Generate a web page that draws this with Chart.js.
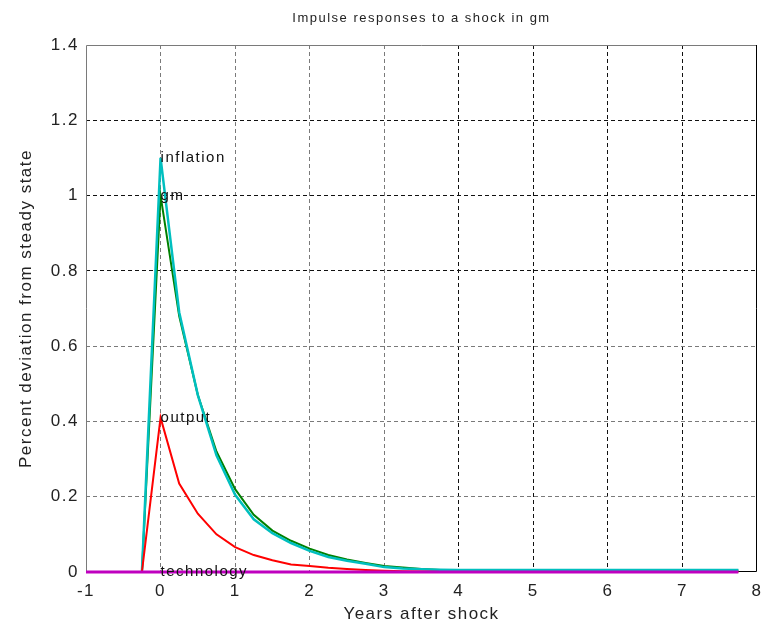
<!DOCTYPE html>
<html>
<head>
<meta charset="utf-8">
<script src="https://cdn.jsdelivr.net/npm/chart.js@4"></script>
<style>
html,body{margin:0;padding:0;background:#fff;}
canvas{display:block;}
</style>
</head>
<body>
<canvas id="c" width="763" height="625"></canvas>
<script>
// ---- data ----
const titleText = 'Impulse responses to a shock in gm';
const xTitle = 'Years after shock';
const yTitle = 'Percent deviation from steady state';

const years = [-1, -0.75, -0.5, -0.25, 0, 0.25, 0.5, 0.75, 1, 1.25, 1.5, 1.75, 2, 2.25, 2.5, 2.75,
  3, 3.25, 3.5, 3.75, 4, 4.25, 4.5, 4.75, 5, 5.25, 5.5, 5.75, 6, 6.25, 6.5, 6.75, 7, 7.25, 7.5, 7.75];

const technology = [0, 0, 0, 0, 0, 0, 0, 0, 0, 0, 0, 0, 0, 0, 0, 0,
  0, 0, 0, 0, 0, 0, 0, 0, 0, 0, 0, 0, 0, 0, 0, 0, 0, 0, 0, 0];
const output = [null, null, null, 0, 0.41, 0.235, 0.155, 0.10, 0.066, 0.045, 0.031, 0.02, 0.016, 0.011, 0.008, 0.005,
  0.003, 0.002, 0.001, 0, 0, 0, 0, 0, 0, 0, 0, 0, 0, 0, 0, 0, 0, 0, 0, 0];
const inflation = [null, null, null, 0, 1.10, 0.69, 0.47, 0.31, 0.205, 0.14, 0.103, 0.077, 0.056, 0.04, 0.03, 0.022,
  0.013, 0.009, 0.007, 0.006, 0.005, 0.005, 0.005, 0.005, 0.005, 0.005, 0.005, 0.005, 0.005, 0.005, 0.005, 0.005, 0.005, 0.005, 0.005, 0.005];
const gm = [null, null, null, 0, 1.0, 0.68, 0.47, 0.32, 0.22, 0.152, 0.11, 0.083, 0.062, 0.045, 0.033, 0.024,
  0.016, 0.012, 0.008, 0.005, 0.004, 0.004, 0.004, 0.004, 0.004, 0.004, 0.004, 0.004, 0.004, 0.004, 0.004, 0.004, 0.004, 0.004, 0.004, 0.004];

const xTicks = [-1, 0, 1, 2, 3, 4, 5, 6, 7, 8];
const yTicks = [0, 0.2, 0.4, 0.6, 0.8, 1, 1.2, 1.4];
const yTickLabels = ['0', '0.2', '0.4', '0.6', '0.8', '1', '1.2', '1.4'];

const annoNames = ['inflation', 'gm', 'output', 'technology'];
const annoX = [0, 0, 0, 0];
const annoY = [1.1, 1.0, 0.41, 0];

// ---- chart ----
const FONT = '"Liberation Sans", Arial, sans-serif';
const SPACING = '1.5px';
const pts = arr => years.map((t, i) => ({x: t, y: arr[i]}));

const spacingPlugin = {
  id: 'spacing',
  beforeLayout(chart) { try { chart.ctx.letterSpacing = SPACING; } catch (e) {} },
  beforeDraw(chart) { try { chart.ctx.letterSpacing = SPACING; } catch (e) {} }
};

const boxPlugin = {
  id: 'box',
  beforeDatasetsDraw(chart) {
    const {ctx, chartArea: a} = chart;
    ctx.save();
    ctx.lineWidth = 1;
    ctx.strokeStyle = '#7a7a7a';
    ctx.beginPath();
    ctx.moveTo(a.left + 0.5, a.bottom);
    ctx.lineTo(a.left + 0.5, a.top + 0.5);
    ctx.lineTo(a.right, a.top + 0.5);
    ctx.stroke();
    ctx.strokeStyle = '#000';
    ctx.beginPath();
    ctx.moveTo(a.right - 0.5, a.top);
    ctx.lineTo(a.right - 0.5, a.bottom - 0.5);
    ctx.lineTo(a.left, a.bottom - 0.5);
    ctx.stroke();
    ctx.restore();
  }
};

const annoPlugin = {
  id: 'anno',
  afterDatasetsDraw(chart) {
    const {ctx, scales: {x, y}} = chart;
    ctx.save();
    ctx.font = '15px ' + FONT;
    try { ctx.letterSpacing = SPACING; } catch (e) {}
    ctx.fillStyle = '#111';
    ctx.textAlign = 'left';
    ctx.textBaseline = 'middle';
    annoNames.forEach((n, i) => {
      ctx.fillText(n, x.getPixelForValue(annoX[i]), y.getPixelForValue(annoY[i]));
    });
    ctx.restore();
  }
};

const gridColor = (lightMax, min, max) => c => {
  const v = c.tick ? c.tick.value : null;
  if (v === null || v === min || v === max) return 'rgba(0,0,0,0)';
  return v <= lightMax ? '#7a7a7a' : '#111';
};

const tickFont = {family: FONT, size: 17};

new Chart(document.getElementById('c'), {
  type: 'line',
  data: {
    datasets: [
      {label: 'technology', data: pts(technology), borderColor: '#bf00bf', borderWidth: 3, clip: 4},
      {label: 'output', data: pts(output), borderColor: '#ff0000', borderWidth: 2, clip: 4},
      {label: 'inflation', data: pts(inflation), borderColor: '#00bfbf', borderWidth: 2.5, clip: 4},
      {label: 'gm', data: pts(gm), borderColor: '#008000', borderWidth: 2, clip: 4}
    ]
  },
  options: {
    responsive: false,
    animation: false,
    devicePixelRatio: 1,
    layout: {padding: {left: 0, right: 0, top: 0, bottom: 0}},
    elements: {point: {radius: 0}, line: {tension: 0, borderCapStyle: 'butt'}},
    plugins: {
      legend: {display: false},
      tooltip: {enabled: false},
      title: {
        display: true,
        fullSize: false,
        text: titleText,
        color: '#222',
        font: {family: FONT, size: 13, weight: 'normal'},
        padding: {top: 11, bottom: 18.4}
      }
    },
    scales: {
      x: {
        type: 'linear',
        min: -1, max: 8,
        afterFit: s => { s.height = 53; s.paddingRight = 6; s.paddingLeft = 0; },
        afterBuildTicks: s => { s.ticks = xTicks.map(v => ({value: v})); },
        ticks: {color: '#222', font: tickFont, padding: 9, maxRotation: 0, autoSkip: false},
        grid: {color: gridColor(3, -1, 8), lineWidth: 1, drawTicks: false},
        border: {display: false, dash: [4, 3]},
        title: {display: true, text: xTitle, color: '#222', font: tickFont, padding: {top: 0, bottom: 0}}
      },
      y: {
        type: 'linear',
        min: 0, max: 1.4,
        afterFit: s => { s.width = 86; },
        afterBuildTicks: s => { s.ticks = yTicks.map(v => ({value: v})); },
        ticks: {
          color: '#222', font: tickFont, padding: 7, autoSkip: false,
          callback: (v, i) => yTickLabels[i]
        },
        grid: {color: gridColor(0.6, 0, 1.4), lineWidth: 1, drawTicks: false},
        border: {display: false, dash: [4, 3]},
        title: {display: true, text: yTitle, color: '#222', font: tickFont, padding: {top: 16, bottom: 0}}
      }
    }
  },
  plugins: [spacingPlugin, boxPlugin, annoPlugin]
});
</script>
</body>
</html>
